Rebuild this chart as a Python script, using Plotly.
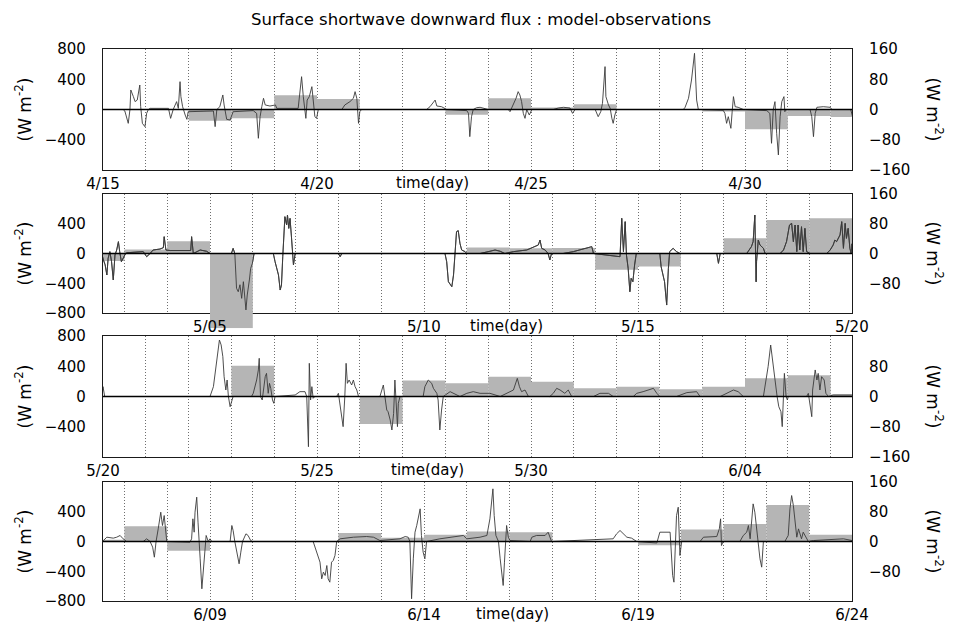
import pandas as pd
import plotly.graph_objects as go

BASE = pd.Timestamp("2000-04-15")

# daily-mean model-minus-observation difference (W m-2, right axis), 4/15 .. 6/23
daily_diff = [
    0, 0, -30, -23, 38, 28, 0, 0, -14, 30, 5, 14, 0, 0, -5, -52,          # 4/15-4/30
    -17, -20, 11, 33, -201, 0, 0, 0, 0, 0, 16, 14, 15, -44, -35, 0,       # 5/01-5/16
    41, 90, 95, 0, 0, 0, 81, 0, 0, -73, 42, 35, 52, 39, 22,               # 5/17-5/31
    26, 19, 26, 48, 56, 5, 41, -25, 0, 0, 0, 23, 10, 18, 27, 25,          # 6/01-6/16
    0, 0, -10, 32, 47, 98, 18,                                            # 6/17-6/23
]
daily_dates = pd.date_range("2000-04-15", periods=len(daily_diff), freq="D")

# hourly difference (W m-2, left axis): (days since 4/15 00h, value)
hourly_p1 = [(0.00,0),(0.16,0),(0.47,0),(0.51,-20),(0.59,-183),(0.63,0),(0.65,258),(0.71,170),(0.75,104),(0.80,125),(0.86,324),(0.88,40),(0.92,-183),(0.98,-227),(1.02,-50),(1.06,0),(1.10,15),(1.53,15),(1.58,-117),(1.64,0),(1.68,60),(1.72,104),(1.76,15),(1.80,368),(1.82,170),(1.86,37),(1.92,-73),(1.96,-130),(1.99,-29),(2.07,-29),(2.58,-20),(2.62,-227),(2.66,0),(2.73,37),(2.80,192),(2.83,60),(2.89,-130),(2.97,-139),(3.04,-29),(3.51,-15),(3.59,-51),(3.63,-381),(3.67,-95),(3.71,37),(3.75,148),(3.79,60),(3.90,46),(4.03,60),(4.06,15),(4.56,15),(4.60,192),(4.64,434),(4.68,170),(4.72,-73),(4.74,-117),(4.77,125),(4.82,170),(4.88,302),(4.91,104),(4.95,-95),(4.99,-117),(5.03,0),(5.58,0),(5.65,60),(5.77,104),(5.85,148),(5.89,236),(5.93,148),(5.97,-183),(6.00,-29),(6.04,0),(7.56,0),(7.64,37),(7.76,125),(7.80,46),(7.91,37),(8.03,0),(8.50,-15),(8.54,-51),(8.57,-359),(8.61,-95),(8.65,0),(8.73,24),(8.81,29),(9.00,0),(9.47,0),(9.51,-29),(9.59,60),(9.65,148),(9.70,236),(9.74,192),(9.78,104),(9.82,-51),(9.86,-117),(9.90,0),(9.96,-73),(10.02,0),(10.52,0),(10.64,20),(10.76,29),(10.91,20),(10.97,-51),(11.03,0),(11.50,0),(11.53,-44),(11.57,-95),(11.63,-29),(11.67,82),(11.73,567),(11.75,170),(11.81,60),(11.85,15),(11.89,-117),(11.92,-183),(11.96,-73),(12.00,0),(13.56,0),(13.60,29),(13.68,148),(13.75,390),(13.82,743),(13.85,390),(13.87,125),(13.91,0),(14.49,-10),(14.53,-51),(14.57,-183),(14.61,-95),(14.67,-249),(14.70,-29),(14.73,170),(14.77,37),(14.84,29),(14.96,0),(15.51,-15),(15.58,-51),(15.62,-447),(15.66,0),(15.70,104),(15.74,-315),(15.78,-601),(15.82,-95),(15.86,104),(15.91,170),(15.93,-29),(15.97,0),(16.52,0),(16.56,-95),(16.60,-359),(16.64,-51),(16.68,29),(16.83,37),(16.99,29),(17.03,0)]
hourly_p2 = [(17.47,0),(17.51,-87),(17.55,-152),(17.59,-289),(17.62,-65),(17.66,25),(17.70,-110),(17.74,-356),(17.78,-20),(17.82,47),(17.86,159),(17.89,25),(17.93,-110),(18.01,-20),(18.05,10),(18.44,25),(18.52,-43),(18.60,0),(18.67,47),(18.83,60),(18.91,78),(18.93,226),(18.97,47),(19.07,40),(19.45,34),(19.55,40),(19.57,226),(19.61,0),(19.77,47),(19.92,30),(20.00,0),(20.50,0),(20.54,69),(20.58,0),(20.62,-468),(20.66,-514),(20.70,-420),(20.74,-603),(20.78,-379),(20.82,-625),(20.84,-759),(20.87,-558),(20.90,-468),(20.92,-356),(20.95,-200),(20.99,-132),(21.03,0),(21.48,0),(21.52,-110),(21.60,-289),(21.64,-491),(21.67,-424),(21.70,-43),(21.73,338),(21.75,495),(21.79,383),(21.81,517),(21.84,338),(21.87,472),(21.90,248),(21.93,-110),(21.95,-154),(21.99,0),(23.00,0),(23.04,-43),(23.08,0),(25.49,0),(25.53,-110),(25.57,-379),(25.65,-446),(25.69,-289),(25.72,0),(25.76,293),(25.80,307),(25.84,137),(25.88,47),(25.96,25),(26.00,0),(26.31,0),(26.54,30),(26.66,47),(26.78,30),(26.89,0),(27.09,25),(27.40,47),(27.67,114),(27.71,181),(27.75,70),(27.83,47),(27.90,0),(27.94,-87),(27.98,0),(28.25,0),(28.49,25),(28.64,47),(28.80,69),(28.92,92),(28.96,0),(29.58,-43),(29.62,473),(29.66,25),(29.70,428),(29.73,-20),(29.77,-200),(29.81,-514),(29.84,-334),(29.88,-379),(29.92,-155),(29.96,0),(30.51,0),(30.54,-177),(30.62,-379),(30.67,-693),(30.71,-200),(30.74,25),(30.82,69),(30.90,25),(30.98,0),(31.84,0),(31.88,-132),(31.92,0),(32.54,0),(32.65,92),(32.69,159),(32.73,517),(32.76,-381),(32.77,-110),(32.81,181),(32.85,114),(32.93,70),(32.97,0),(33.32,0),(33.40,47),(33.47,159),(33.54,383),(33.59,405),(33.63,159),(33.67,383),(33.71,25),(33.74,383),(33.78,47),(33.82,360),(33.86,25),(33.90,338),(33.94,25),(34.02,0),(34.41,0),(34.49,47),(34.56,114),(34.60,181),(34.64,159),(34.72,249),(34.76,428),(34.80,70),(34.84,405),(34.87,204),(34.91,338),(34.95,70),(34.98,0)]
hourly_p3 = [(35.00,130),(35.04,0),(37.50,0),(37.58,130),(37.66,527),(37.72,747),(37.76,682),(37.80,527),(37.83,262),(37.87,86),(37.90,218),(37.93,0),(37.97,-135),(38.01,-46),(38.04,0),(38.47,0),(38.51,42),(38.59,218),(38.63,351),(38.65,505),(38.68,0),(38.72,-46),(38.79,262),(38.82,306),(38.86,42),(38.89,174),(38.92,108),(38.96,-46),(38.99,-90),(39.02,0),(39.49,20),(39.60,64),(39.72,64),(39.76,0),(39.80,-664),(39.82,439),(39.85,-46),(39.88,130),(39.91,-24),(39.95,0),(40.46,0),(40.50,42),(40.58,-311),(40.61,-399),(40.65,0),(40.68,439),(40.71,174),(40.75,218),(40.81,152),(40.85,218),(40.89,130),(40.93,86),(40.97,0),(41.47,0),(41.55,152),(41.59,0),(41.63,-179),(41.66,-201),(41.71,-311),(41.75,-443),(41.79,-223),(41.82,218),(41.85,-135),(41.88,-399),(41.90,-90),(41.94,0),(42.48,0),(42.52,130),(42.60,218),(42.68,174),(42.72,108),(42.80,42),(42.83,-46),(42.87,-443),(42.91,-179),(42.95,0),(43.11,64),(43.34,0),(43.50,42),(43.65,64),(43.81,42),(44.04,42),(44.28,0),(44.59,86),(44.68,240),(44.73,130),(44.78,64),(44.86,86),(44.94,0),(45.44,0),(45.52,42),(45.60,108),(45.68,86),(45.79,42),(45.87,86),(45.95,0),(46.46,0),(46.61,42),(46.81,42),(46.92,0),(47.39,0),(47.47,42),(47.62,64),(47.86,108),(47.94,42),(48.01,0),(48.40,0),(48.48,20),(48.64,51),(48.87,64),(48.95,0),(49.42,0),(49.49,20),(49.73,86),(49.84,64),(49.96,0),(50.43,0),(50.47,130),(50.54,395),(50.60,681),(50.65,439),(50.68,262),(50.72,64),(50.75,0),(50.79,-135),(50.84,-201),(50.87,-399),(50.89,0),(50.92,306),(50.96,0),(50.99,-46),(51.01,0),(51.44,0),(51.48,42),(51.52,-90),(51.56,-267),(51.58,86),(51.64,351),(51.68,218),(51.71,306),(51.75,86),(51.79,262),(51.85,218),(51.89,42),(51.95,0),(52.06,20),(52.49,20)]
hourly_p4 = [(52.51,13),(52.59,58),(52.74,45),(52.82,58),(52.90,81),(52.97,36),(53.05,0),(53.44,0),(53.52,36),(53.60,0),(53.66,-76),(53.70,-211),(53.74,0),(53.79,170),(53.82,282),(53.85,394),(53.87,300),(53.89,215),(53.93,349),(53.96,125),(53.99,0),(54.53,-10),(54.57,36),(54.60,305),(54.63,125),(54.65,394),(54.69,596),(54.72,260),(54.74,0),(54.77,-233),(54.81,-636),(54.86,-278),(54.91,81),(54.96,0),(55.00,36),(55.04,0),(55.47,0),(55.51,215),(55.54,148),(55.58,0),(55.62,-121),(55.68,-300),(55.72,-143),(55.76,0),(55.84,103),(55.89,81),(55.95,13),(55.99,0),(57.41,0),(57.49,-143),(57.57,-278),(57.61,-502),(57.65,-412),(57.69,-457),(57.73,-323),(57.76,-502),(57.80,-547),(57.84,-278),(57.88,-255),(57.92,-188),(57.96,0),(58.04,36),(58.35,58),(58.66,67),(58.82,58),(58.97,13),(59.44,36),(59.56,67),(59.63,58),(59.67,0),(59.71,-770),(59.75,-233),(59.79,125),(59.83,215),(59.87,349),(59.91,439),(59.94,81),(59.98,-143),(60.02,-233),(60.06,0),(60.37,36),(60.68,58),(60.92,81),(61.00,36),(61.15,45),(61.31,58),(61.47,81),(61.54,305),(61.61,708),(61.64,349),(61.68,81),(61.74,0),(61.78,-233),(61.82,-457),(61.85,-591),(61.88,-278),(61.90,0),(61.93,215),(61.97,58),(62.01,13),(62.48,0),(62.52,58),(62.63,81),(62.83,81),(62.90,125),(62.98,0),(64.42,36),(64.50,103),(64.58,148),(64.66,103),(64.74,58),(64.85,45),(64.97,0),(65.44,-20),(65.47,58),(65.51,125),(65.75,125),(65.79,-233),(65.81,-457),(65.84,-547),(65.86,-143),(65.90,349),(65.94,461),(65.96,215),(65.98,-188),(66.02,0),(66.45,0),(66.53,58),(66.68,67),(66.84,67),(66.90,170),(66.93,305),(66.95,-54),(66.99,0),(67.38,0),(67.46,81),(67.54,125),(67.58,215),(67.62,36),(67.66,349),(67.69,506),(67.73,394),(67.77,170),(67.81,0),(67.85,-233),(67.89,-345),(67.93,0),(68.43,0),(68.51,81),(68.55,439),(68.59,618),(68.63,484),(68.67,215),(68.71,58),(68.75,170),(68.79,103),(68.82,36),(68.86,125),(68.94,36),(68.98,0),(69.10,13),(69.49,27),(69.80,36),(70.00,13)]

hourly = hourly_p1 + hourly_p2 + hourly_p3 + hourly_p4
hour_t = [p[0] for p in hourly]
hour_v = [p[1] for p in hourly]
hour_x = BASE + pd.to_timedelta(hour_t, unit="D")

# panel spans (days since 4/15) and axis tick values
panel_span = [(0, 17.5), (17.5, 35), (35, 52.5), (52.5, 70)]
left_ticks = [[800, 400, 0, -400], [400, 0, -400, -800], [800, 400, 0, -400], [400, 0, -400, -800]]
right_ticks = [[160, 80, 0, -80, -160], [160, 80, 0, -80], [80, 0, -80, -160], [160, 80, 0, -80]]
R_RIGHT, R_LEFT = 160, 800

# the page body adds an 8px margin, so the figure is laid out 8px up/left
OFF = 8
W, H = 959 - OFF, 629 - OFF
X0, X1 = 103 - OFF, 852 - OFF
tops = [t - OFF for t in (49, 194, 336, 482)]
bots = [b - OFF for b in (170, 313, 457, 601)]
FONT = "DejaVu Sans"
tickfont = dict(family=FONT, size=15, color="black")
FRAME = dict(showline=True, linecolor="#1a1a1a", linewidth=1.2, automargin=False)
HIDDEN = dict(visible=False, showgrid=False, zeroline=False, automargin=False)
BAR_COLOR = "#b5b5b5"
LINE = dict(color="#3a3a3a", width=0.9)

fig = go.Figure()
layout = dict(template="none", width=W, height=H, margin=dict(l=0, r=0, t=0, b=0, autoexpand=False),
              autosize=False, paper_bgcolor="white", plot_bgcolor="rgba(0,0,0,0)", showlegend=False,
              font=dict(family=FONT, color="black"))
shapes, annots = [], []
DAY_MS = 86400000
next_x, next_y = 5, 9   # ids for extra (hidden) axes

for i, (s, e) in enumerate(panel_span, start=1):
    sfx = "" if i == 1 else str(i)
    xa, yb, yl = f"x{sfx}", f"y{sfx}", f"y{i+4}"
    start = BASE + pd.Timedelta(days=s)
    end = BASE + pd.Timedelta(days=e)
    top, bot = tops[i-1], bots[i-1]
    dom_y = [1 - bot / H, 1 - top / H]

    in_span = [(d, v) for d, v in zip(daily_dates, daily_diff)
               if d < end and d + pd.Timedelta(days=1) > start]
    normal = [(d, v) for d, v in in_span if abs(v) <= R_RIGHT]
    over = [(d, v) for d, v in in_span if abs(v) > R_RIGHT]

    days = pd.date_range(start.ceil("D"), end.floor("D"), freq="D")
    label_days = [d for d in days if (d - BASE).days % 5 == 0]
    if over:
        # date labels go on top of the off-scale bar, so they are drawn as annotations
        ttext = ["" for d in days]
        for d in label_days:
            annots.append(dict(text=f"{d.month}/{d.day:02d}", x=d, xref=xa, y=1 - (bot + 14) / H,
                               yref="paper", showarrow=False, xanchor="center", yanchor="middle",
                               font=tickfont))
    else:
        ttext = [f"{d.month}/{d.day:02d}" if d in label_days else "" for d in days]

    layout[f"xaxis{sfx}"] = dict(domain=[X0 / W, X1 / W], anchor=yb, type="date",
                         range=[start, end], tickmode="array", tickvals=list(days), ticktext=ttext,
                         showgrid=True, gridcolor="#6e6e6e", griddash="1px,2px", gridwidth=1,
                         zeroline=False, ticks="", tickfont=tickfont, ticklabelstandoff=0,
                         mirror=True, **FRAME)
    layout[f"yaxis{sfx}"] = dict(domain=dom_y, anchor=xa, side="right", range=[-R_RIGHT, R_RIGHT],
                          tickmode="array", tickvals=right_ticks[i-1], showgrid=False,
                          zeroline=False, ticks="", tickfont=tickfont, ticklabelstandoff=13, **FRAME)
    layout[f"yaxis{i+4}"] = dict(overlaying=yb, anchor=xa, side="left", range=[-R_LEFT, R_LEFT],
                          tickmode="array", tickvals=left_ticks[i-1], showgrid=False,
                          zeroline=False, ticks="", tickfont=tickfont, ticklabelstandoff=13, **FRAME)

    # daily-mean bars and hourly line on the framed axes
    fig.add_trace(go.Bar(x=[d for d, _ in normal], y=[v for _, v in normal],
                         width=DAY_MS, offset=0, marker=dict(color=BAR_COLOR, line=dict(width=0)),
                         xaxis=xa, yaxis=yb, hoverinfo="skip"))
    fig.add_trace(go.Scatter(x=hour_x, y=hour_v, mode="lines", line=LINE,
                             xaxis=xa, yaxis=yl, hoverinfo="skip"))

    # off-scale daily bars run past the frame: same scale, on hidden axes with a taller domain
    if over:
        px_per_unit = (bot - top) / (2 * R_RIGHT)
        ext_lo = max(0, -min(v for _, v in over) - R_RIGHT)
        ext_hi = max(0, max(v for _, v in over) - R_RIGHT)
        hx, hb, hl = f"x{next_x}", f"y{next_y}", f"y{next_y+1}"
        k = R_LEFT / R_RIGHT
        layout[f"xaxis{next_x}"] = dict(domain=[X0 / W, X1 / W], anchor=hb, type="date",
                                        range=[start, end], **HIDDEN)
        layout[f"yaxis{next_y}"] = dict(domain=[1 - (bot + ext_lo * px_per_unit) / H,
                                                1 - (top - ext_hi * px_per_unit) / H],
                                        anchor=hx, range=[-R_RIGHT - ext_lo, R_RIGHT + ext_hi], **HIDDEN)
        layout[f"yaxis{next_y+1}"] = dict(overlaying=hb, anchor=hx,
                                          range=[-(R_RIGHT + ext_lo) * k, (R_RIGHT + ext_hi) * k], **HIDDEN)
        fig.add_trace(go.Bar(x=[d for d, _ in over], y=[v for _, v in over],
                             width=DAY_MS, offset=0, marker=dict(color=BAR_COLOR, line=dict(width=0)),
                             xaxis=hx, yaxis=hb, hoverinfo="skip"))
        # keep the hourly line drawn over that bar
        fig.add_trace(go.Scatter(x=hour_x, y=hour_v, mode="lines", line=LINE,
                                 xaxis=hx, yaxis=hl, hoverinfo="skip"))
        next_x += 1
        next_y += 2

    shapes.append(dict(type="line", xref=f"{xa} domain", x0=0, x1=1, yref=yl, y0=0, y1=0,
                       line=dict(color="black", width=1.6), layer="above"))

    zc = 1 - (top + bot) / 2 / H
    annots.append(dict(text="(W m<sup>-2</sup>)", x=(23 - OFF) / W, y=zc, xref="paper", yref="paper",
                       textangle=-90, showarrow=False, xanchor="center", yanchor="middle",
                       font=dict(family=FONT, size=17, color="black")))
    annots.append(dict(text="(W m<sup>-2</sup>)", x=(935 - OFF) / W, y=zc, xref="paper", yref="paper",
                       textangle=90, showarrow=False, xanchor="center", yanchor="middle",
                       font=dict(family=FONT, size=17, color="black")))
    tx = [432, 507, 427, 512][i-1] - OFF
    annots.append(dict(text="time(day)", x=tx / W, y=1 - (bot + 13) / H, xref="paper",
                       yref="paper", showarrow=False, xanchor="center", yanchor="middle",
                       font=tickfont))

annots.append(dict(text="Surface shortwave downward flux : model-observations",
                   x=(481 - OFF) / W, y=1, xref="paper", yref="paper", showarrow=False,
                   xanchor="center", yanchor="top", font=dict(family=FONT, size=16.5, color="black")))

layout["shapes"] = shapes
layout["annotations"] = annots
layout["barmode"] = "overlay"
fig.update_layout(**layout)
fig.write_html("out.html")
